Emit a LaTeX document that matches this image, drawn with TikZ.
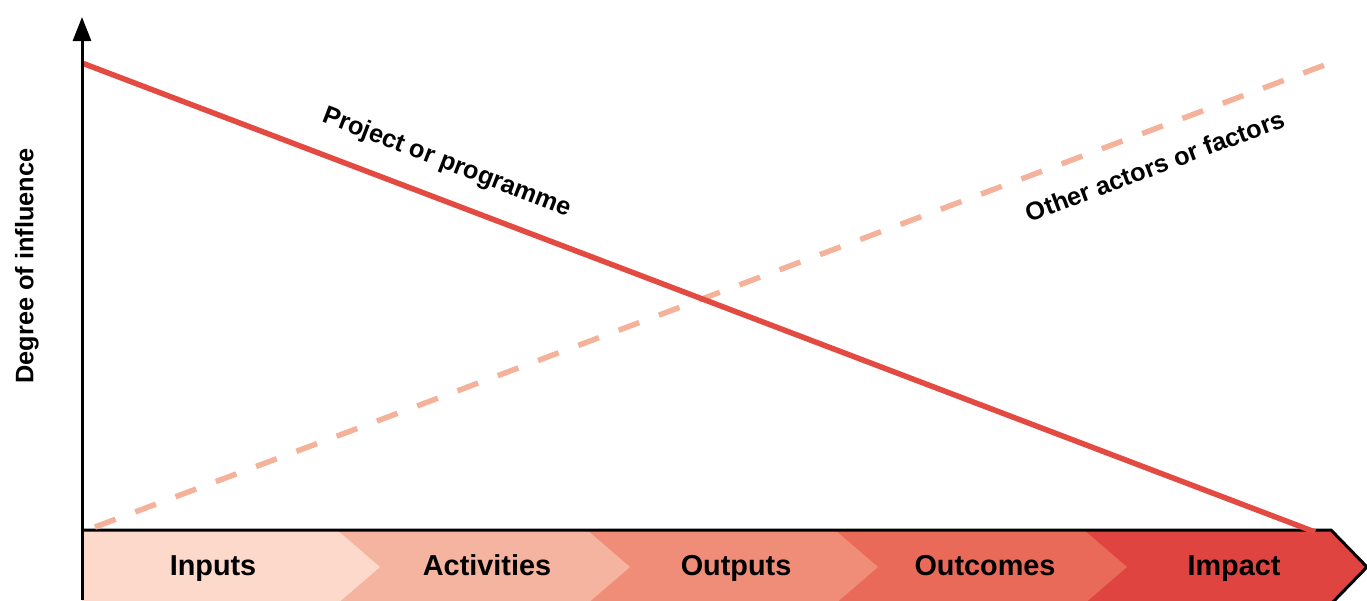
\documentclass[tikz,border=0pt]{standalone}
\usepackage{fontspec}
\setmainfont{Liberation Sans}
\usepackage{tikz}
\usetikzlibrary{arrows.meta}
\definecolor{inputspink}{RGB}{252,217,203}
\definecolor{activitiespink}{RGB}{245,180,159}
\definecolor{outputsred}{RGB}{240,141,120}
\definecolor{outcomesred}{RGB}{234,106,90}
\definecolor{impactred}{RGB}{224,68,64}
\definecolor{projectred}{RGB}{226,74,66}
\definecolor{otherpeach}{RGB}{245,178,155}

\begin{document}
\begin{tikzpicture}[x=0.01cm, y=-0.01cm,
    stagelabel/.style={anchor=base, font=\fontsize{8.2}{10}\selectfont\bfseries},
    linelabel/.style={font=\fontsize{7.2}{9}\selectfont\bfseries}]
    \clip (0,0) rectangle (1367,600);

    % stages band, drawn from right to left
    \fill[impactred] (82,530) -- (1331,530) -- (1367,567) -- (1331,604) -- (82,604) -- cycle;
    \foreach \tip/\col in {1127/outcomesred, 878/outputsred, 630/activitiespink, 380/inputspink}
        \fill[\col] (82,530) -- (\tip-43,530) -- (\tip,567) -- (\tip-43,604) -- (82,604) -- cycle;
    \draw[line width=0.03cm] (82,530) -- (1331,530) -- (1367,567) -- (1331,604);

    \node[stagelabel] (inputs) at (213,575) {Inputs};
    \node[stagelabel] (activities) at (487,575) {Activities};
    \node[stagelabel] (outputs) at (736,575) {Outputs};
    \node[stagelabel] (outcomes) at (985,575) {Outcomes};
    \node[stagelabel] (impact) at (1234,575) {Impact};

    % other actors or factors
    \draw[otherpeach, line width=0.055cm, dash pattern=on 0.22cm off 0.21cm] (95,527) -- (1330,63);
    \node[linelabel, rotate=20.6] (other) at (1155,166) {Other actors or factors};

    % project or programme
    \draw[projectred, line width=0.055cm] (82,63) -- (1315,532);
    \node[linelabel, rotate=-21.1] (project) at (447,163) {Project or programme};

    % axis
    \draw[line width=0.03cm, -{Triangle[width=0.18cm, length=0.24cm]}] (82,600) -- (82,17);
    \node[linelabel, rotate=90] (influence) at (27,266) {Degree of influence};
\end{tikzpicture}
\end{document}
